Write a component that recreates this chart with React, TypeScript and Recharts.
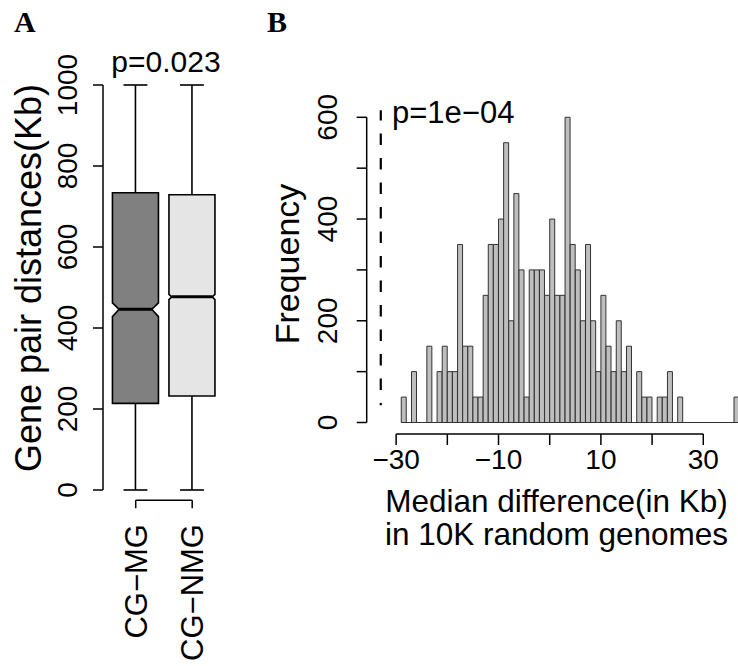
import React from 'react';
import { ComposedChart, Bar, XAxis, YAxis, ReferenceLine } from 'recharts';

// ---------- Panel A: notched boxplot data ----------
const boxCategories = ['CG−MG', 'CG−NMG'];
const boxMin = [0, 0];
const boxQ1 = [214, 232];
const boxMedian = [446, 477];
const boxQ3 = [734, 729];
const boxMax = [1000, 1000];
const boxNotchLow = [428, 470];
const boxNotchHigh = [462, 483];
const boxYTicks = [0, 200, 400, 600, 800, 1000];
const boxPValue = 'p=0.023';

// ---------- Panel B: histogram data ----------
const histBinCenters = [
  -28.5, -27.5, -26.5, -25.5, -24.5, -23.5, -22.5, -21.5, -20.5, -19.5,
  -18.5, -17.5, -16.5, -15.5, -14.5, -13.5, -12.5, -11.5, -10.5, -9.5,
  -8.5, -7.5, -6.5, -5.5, -4.5, -3.5, -2.5, -1.5, -0.5, 0.5,
  1.5, 2.5, 3.5, 4.5, 5.5, 6.5, 7.5, 8.5, 9.5, 10.5,
  11.5, 12.5, 13.5, 14.5, 15.5, 16.5, 17.5, 18.5, 19.5, 20.5,
  21.5, 22.5, 23.5, 24.5, 25.5, 26.5, 27.5, 28.5, 29.5, 30.5,
  31.5, 32.5, 33.5, 34.5, 35.5, 36.5,
];
const histCounts = [
  50, 0, 100, 0, 0, 150, 0, 100, 150, 100,
  100, 350, 150, 150, 50, 50, 250, 350, 350, 400,
  550, 200, 450, 300, 50, 300, 300, 300, 250, 400,
  250, 250, 600, 350, 300, 200, 350, 200, 100, 250,
  150, 100, 200, 100, 150, 0, 100, 50, 50, 0,
  50, 50, 100, 0, 50, 0, 0, 0, 0, 0,
  0, 0, 0, 0, 0, 50,
];
const histBinWidth = 1;
const histXTicks = [-30, -20, -10, 0, 10, 20, 30];
const histXLabelled = [-30, -10, 10, 30];
const histYTicks = [0, 100, 200, 300, 400, 500, 600];
const histYLabelled = [0, 200, 400, 600];
const observedDifference = -33;
const observedLineRange = [34, 614];
const histPValue = 'p=1e−04';

// ---------- styles ----------
const SANS = '"Liberation Sans", Arial, Helvetica, sans-serif';
const SERIF = '"Liberation Serif", "Times New Roman", serif';
const boxFills = ['#808080', '#e5e5e5'];
const notchIndentFrac = [0.145, 0.06];

const boxData = boxCategories.map((name, i) => ({
  name,
  min: boxMin[i],
  q1: boxQ1[i],
  median: boxMedian[i],
  q3: boxQ3[i],
  max: boxMax[i],
  notchLow: boxNotchLow[i],
  notchHigh: boxNotchHigh[i],
}));

const histData = histBinCenters.map((x, i) => ({ x, count: histCounts[i] }));

const BoxShape = (props: any) => {
  const { x, y, width, height, payload, index } = props;
  const lo = payload.min;
  const hi = payload.max;
  const py = (v: number) => y + (height * (hi - v)) / (hi - lo);
  const cx = x + width / 2;
  const xl = x;
  const xr = x + width;
  const ind = width * notchIndentFrac[index];
  const cap = width * 0.26;
  const pts = [
    [xl, py(payload.q3)],
    [xr, py(payload.q3)],
    [xr, py(payload.notchHigh)],
    [xr - ind, py(payload.median)],
    [xr, py(payload.notchLow)],
    [xr, py(payload.q1)],
    [xl, py(payload.q1)],
    [xl, py(payload.notchLow)],
    [xl + ind, py(payload.median)],
    [xl, py(payload.notchHigh)],
  ]
    .map((p) => p.join(','))
    .join(' ');
  const s = { stroke: '#000', strokeWidth: 1.6 };
  return (
    <g>
      <line x1={cx} x2={cx} y1={py(payload.max)} y2={py(payload.q3)} {...s} />
      <line x1={cx} x2={cx} y1={py(payload.q1)} y2={py(payload.min)} {...s} />
      <line x1={cx - cap} x2={cx + cap} y1={py(payload.max)} y2={py(payload.max)} {...s} />
      <line x1={cx - cap} x2={cx + cap} y1={py(payload.min)} y2={py(payload.min)} {...s} />
      <polygon points={pts} fill={boxFills[index]} {...s} strokeLinejoin="miter" />
      <line
        x1={xl + ind}
        x2={xr - ind}
        y1={py(payload.median)}
        y2={py(payload.median)}
        stroke="#000"
        strokeWidth={3}
      />
    </g>
  );
};

const CatTick = (props: any) => {
  const { x, y, payload } = props;
  const ax = x + 11;
  const ay = y + 34;
  return (
    <text
      x={ax}
      y={ay}
      transform={`rotate(-90 ${ax} ${ay})`}
      textAnchor="end"
      fontFamily={SANS}
      fontSize={31}
      fill="#000"
    >
      {payload.value}
    </text>
  );
};

const RotYTick = (props: any) => {
  const { x, y, payload, show } = props;
  if (show && !show.includes(payload.value)) return <g />;
  const ax = x - 10;
  return (
    <text
      x={ax}
      y={y}
      transform={`rotate(-90 ${ax} ${y})`}
      textAnchor="middle"
      fontFamily={SANS}
      fontSize={28}
      fill="#000"
    >
      {payload.value}
    </text>
  );
};

const HistXTick = (props: any) => {
  const { x, y, payload } = props;
  const v = payload.value;
  if (!histXLabelled.includes(v)) return <g />;
  const label = v < 0 ? '−' + Math.abs(v) : String(v);
  return (
    <text x={x} y={y + 24} textAnchor="middle" fontFamily={SANS} fontSize={28} fill="#000">
      {label}
    </text>
  );
};

const axisStroke = { stroke: '#000', strokeWidth: 1.5 };

export default function App() {
  const xDom: [number, number] = [-35.75, 38.15];
  const yDom: [number, number] = [-22.6, 600];
  const firstEdge = histBinCenters[0] - histBinWidth / 2;
  const lastEdge = histBinCenters[histBinCenters.length - 1] + histBinWidth / 2;
  return (
    <div
      style={{
        position: 'fixed',
        left: 0,
        top: 0,
        width: 738,
        height: 666,
        overflow: 'hidden',
        background: '#fff',
      }}
    >
      {/* Panel A */}
      <div style={{ position: 'absolute', left: 0, top: 0 }}>
        <ComposedChart
          width={260}
          height={666}
          data={boxData}
          margin={{ top: 85, right: 30, bottom: 146, left: 43 }}
        >
          <XAxis
            dataKey="name"
            type="category"
            padding={{ left: 4.45, right: 9.55 }}
            axisLine={false}
            tickLine={false}
            tickSize={0}
            tickMargin={0}
            height={30}
            interval={0}
            tick={(p: any) => <CatTick {...p} />}
          />
          <YAxis
            type="number"
            domain={[0, 1000]}
            ticks={boxYTicks}
            width={60}
            tickSize={10}
            tickMargin={6}
            interval={0}
            axisLine={axisStroke}
            tickLine={axisStroke}
            tick={(p: any) => <RotYTick {...p} />}
          />
          <Bar
            dataKey={(d: any) => [d.min, d.max]}
            barSize={46}
            isAnimationActive={false}
            shape={(p: any) => <BoxShape {...p} />}
          />
          <ReferenceLine
            segment={[
              { x: boxCategories[0], y: -25 },
              { x: boxCategories[1], y: -25 },
            ]}
            ifOverflow="visible"
            {...axisStroke}
          />
          {boxCategories.map((c) => (
            <ReferenceLine
              key={c}
              segment={[
                { x: c, y: -25 },
                { x: c, y: -45 },
              ]}
              ifOverflow="visible"
              {...axisStroke}
            />
          ))}
        </ComposedChart>
      </div>

      {/* Panel B */}
      <div style={{ position: 'absolute', left: 250, top: 0 }}>
        <ComposedChart
          width={500}
          height={666}
          data={histData}
          barCategoryGap={0}
          barGap={0}
          margin={{ top: 117.3, right: 5, bottom: 202, left: 56.7 }}
        >
          <XAxis
            dataKey="x"
            type="number"
            domain={xDom}
            ticks={histXTicks}
            interval={0}
            axisLine={false}
            tickSize={11}
            tickMargin={0}
            height={30}
            tickLine={axisStroke}
            tick={(p: any) => <HistXTick {...p} />}
          />
          <YAxis
            type="number"
            domain={yDom}
            ticks={histYTicks}
            interval={0}
            width={60}
            tickSize={10}
            tickMargin={10}
            axisLine={false}
            tickLine={axisStroke}
            tick={(p: any) => <RotYTick {...p} show={histYLabelled} />}
          />
          <Bar
            dataKey="count"
            fill="#bebebe"
            stroke="#333"
            strokeWidth={1}
            isAnimationActive={false}
          />
          <ReferenceLine
            segment={[
              { x: firstEdge, y: 0 },
              { x: lastEdge, y: 0 },
            ]}
            ifOverflow="visible"
            stroke="#333"
            strokeWidth={1}
          />
          <ReferenceLine
            segment={[
              { x: xDom[0], y: histYTicks[0] },
              { x: xDom[0], y: histYTicks[histYTicks.length - 1] },
            ]}
            ifOverflow="visible"
            {...axisStroke}
          />
          <ReferenceLine
            segment={[
              { x: histXTicks[0], y: yDom[0] },
              { x: histXTicks[histXTicks.length - 1], y: yDom[0] },
            ]}
            ifOverflow="visible"
            {...axisStroke}
          />
          <ReferenceLine
            segment={[
              { x: observedDifference, y: observedLineRange[1] },
              { x: observedDifference, y: observedLineRange[0] },
            ]}
            ifOverflow="visible"
            stroke="#000"
            strokeWidth={2.2}
            strokeDasharray="11.5 13"
            strokeDashoffset={1.2}
          />
        </ComposedChart>
      </div>

      {/* Text annotations */}
      <svg
        width={738}
        height={666}
        style={{ position: 'absolute', left: 0, top: 0, pointerEvents: 'none' }}
      >
        <text x={14} y={31.7} fontFamily={SERIF} fontWeight="bold" fontSize={30} fill="#000">
          A
        </text>
        <text x={267} y={31.5} fontFamily={SERIF} fontWeight="bold" fontSize={30} fill="#000">
          B
        </text>
        <text x={166} y={71.7} textAnchor="middle" fontFamily={SANS} fontSize={30} fill="#000">
          {boxPValue}
        </text>
        <text
          x={41}
          y={278}
          transform="rotate(-90 41 278)"
          textAnchor="middle"
          fontFamily={SANS}
          fontSize={36}
          fill="#000"
        >
          Gene pair distances(Kb)
        </text>
        <text
          x={299}
          y={264}
          transform="rotate(-90 299 264)"
          textAnchor="middle"
          fontFamily={SANS}
          fontSize={34}
          fill="#000"
        >
          Frequency
        </text>
        <text x={392} y={123.3} fontFamily={SANS} fontSize={31} fill="#000">
          {histPValue}
        </text>
        <text x={556.5} y={511.7} textAnchor="middle" fontFamily={SANS} fontSize={31.5} fill="#000">
          Median difference(in Kb)
        </text>
        <text x={556.5} y={545} textAnchor="middle" fontFamily={SANS} fontSize={31.5} fill="#000">
          in 10K random genomes
        </text>
      </svg>
    </div>
  );
}
